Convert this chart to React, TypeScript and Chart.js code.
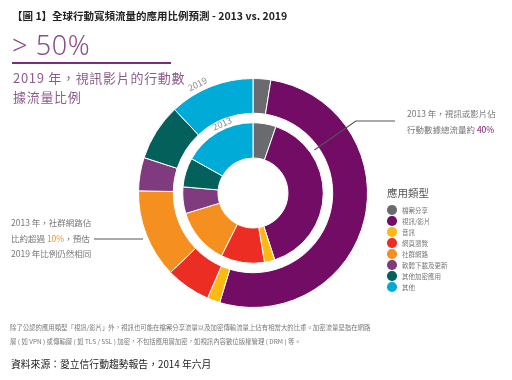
import React, { useEffect, useRef } from "react";
import { Chart, registerables } from "chart.js";

Chart.register(...registerables);

const categories = ["檔案分享", "視訊/影片", "音訊", "網頁瀏覽", "社群網路", "軟體下載及更新", "其他加密應用", "其他"];
const values2019 = [2.5, 52.2, 1.8, 6.3, 12.5, 4.7, 8.0, 12.0];
const values2013 = [5.3, 39.7, 2.4, 10.0, 12.9, 6.1, 6.7, 16.9];
const colors = ["#6a6b6e", "#720c65", "#fdb913", "#ec2d24", "#f58f1f", "#7f3b7d", "#03605a", "#00acd7"];
const ringLabels = ["2019", "2013"];

const FONT = '"Noto Sans CJK TC", "Noto Sans", sans-serif';

const overlayPlugin = {
  id: "overlay",
  afterDatasetsDraw(chart: any) {
    const ctx = chart.ctx;
    const outer = chart.getDatasetMeta(0).data[0];
    const inner = chart.getDatasetMeta(2).data[0];
    if (!outer || !inner) return;
    const cx = outer.x, cy = outer.y;
    const rOut = outer.outerRadius;
    const gapMid = (outer.innerRadius + inner.outerRadius) / 2;
    ctx.save();
    ctx.fillStyle = "#8a8a8a";
    ctx.font = `9px ${FONT}`;
    ctx.textAlign = "center";
    ctx.textBaseline = "middle";
    const lbl = (t: string, r: number, degA: number) => {
      ctx.save();
      ctx.translate(cx, cy);
      ctx.rotate((degA * Math.PI) / 180);
      ctx.fillText(t, 0, -r);
      ctx.restore();
    };
    lbl(ringLabels[0], rOut + 8, -27);
    lbl(ringLabels[1], gapMid + 1, -24);

    ctx.strokeStyle = "#555";
    ctx.lineWidth = 1.2;
    const a = (55 * Math.PI) / 180;
    const r1 = gapMid, r2 = rOut + 11;
    ctx.beginPath();
    ctx.moveTo(cx + r1 * Math.sin(a), cy - r1 * Math.cos(a));
    const ex = cx + r2 * Math.sin(a), ey = cy - r2 * Math.cos(a);
    ctx.lineTo(ex, ey);
    ctx.lineTo(cx + 142, ey);
    ctx.stroke();

    ctx.beginPath();
    ctx.moveTo(cx - 159, cy + 46);
    ctx.lineTo(cx - 110, cy + 46);
    ctx.stroke();
    ctx.restore();
  },
};

const abs = (o: React.CSSProperties): React.CSSProperties => ({
  position: "absolute",
  whiteSpace: "nowrap",
  fontFamily: FONT,
  margin: 0,
  ...o,
});

export default function App() {
  const ref = useRef<HTMLCanvasElement | null>(null);
  useEffect(() => {
    if (!ref.current) return;
    const chart = new Chart(ref.current, {
      type: "doughnut",
      data: {
        labels: categories,
        datasets: [
          { data: values2019, backgroundColor: colors, borderColor: "#fff", borderWidth: 1, weight: 35 } as any,
          { data: [1], backgroundColor: "rgba(0,0,0,0)", borderWidth: 0, weight: 9.5 } as any,
          { data: values2013, backgroundColor: colors, borderColor: "#fff", borderWidth: 1, weight: 35.5 } as any,
        ],
      },
      options: {
        responsive: false,
        animation: false,
        devicePixelRatio: 1,
        cutout: 35,
        layout: { padding: { left: 138, right: 144, top: 78, bottom: 72 } },
        plugins: { legend: { display: false }, tooltip: { enabled: false } },
      } as any,
      plugins: [overlayPlugin],
    });
    return () => chart.destroy();
  }, []);

  const gray = "#777";
  return (
    <div style={{ position: "fixed", left: 0, top: 0, width: 512, height: 380, background: "#fff", overflow: "hidden" }}>
      <canvas ref={ref} width={512} height={380} style={{ position: "absolute", left: 0, top: 0, width: 512, height: 380 }} />
      <div style={abs({ left: 12, top: 9, fontSize: 10.5, lineHeight: "14px", fontWeight: 700, color: "#222" })}>
        【圖 1】全球行動寬頻流量的應用比例預測 - 2013 vs. 2019
      </div>
      <div style={abs({ left: 12, top: 29, fontSize: 27, lineHeight: "32px", fontWeight: 300, letterSpacing: 0.6, color: "#8a4f8a", fontFamily: '"Noto Sans", sans-serif' })}>
        &gt; 50%
      </div>
      <div style={{ position: "absolute", left: 12, top: 62, width: 159, height: 1.5, background: "#7b2d7b" }} />
      <div style={abs({ left: 13, top: 68, fontSize: 13, lineHeight: "19px", letterSpacing: 0.7, color: "#8c5b8c" })}>
        2019 年，視訊影片的行動數
        <br />
        據流量比例
      </div>
      <div style={abs({ left: 407, top: 106, fontSize: 8.5, lineHeight: "15.5px", color: gray })}>
        2013 年，視訊或影片佔
        <br />
        行動數據總流量約 <span style={{ color: "#720c65" }}>40%</span>
      </div>
      <div style={abs({ left: 11, top: 215, fontSize: 8.5, lineHeight: "15.5px", color: gray })}>
        2013 年，社群網路佔
        <br />
        比約超過 <span style={{ color: "#f58f1f" }}>10%</span>，預估
        <br />
        2019 年比例仍然相同
      </div>
      <div style={abs({ left: 387, top: 186, fontSize: 10.5, lineHeight: "14px", color: "#555" })}>應用類型</div>
      {categories.map((c, i) => (
        <div key={c} style={abs({ left: 387, top: 205 + i * 11, height: 10, display: "flex", alignItems: "center" })}>
          <span style={{ display: "inline-block", width: 9.5, height: 9.5, borderRadius: "50%", background: colors[i], marginRight: 5.5 }} />
          <span style={{ fontSize: 6.5, color: gray, lineHeight: "10px" }}>{c}</span>
        </div>
      ))}
      <div style={abs({ left: 10, top: 321, fontSize: 6.4, lineHeight: "14px", color: gray })}>
        除了公認的應用類型「視訊/影片」外，視訊也可能在檔案分享流量以及加密傳輸流量上佔有相當大的比重。加密流量是指在網路
        <br />
        層 ( 如 VPN ) 或傳輸層 ( 如 TLS / SSL ) 加密，不包括應用層加密，如視訊內容數位版權管理 ( DRM ) 等。
      </div>
      <div style={abs({ left: 11, top: 357, fontSize: 9.8, lineHeight: "14px", color: "#222" })}>
        資料來源：愛立信行動趨勢報告，2014 年六月
      </div>
    </div>
  );
}
